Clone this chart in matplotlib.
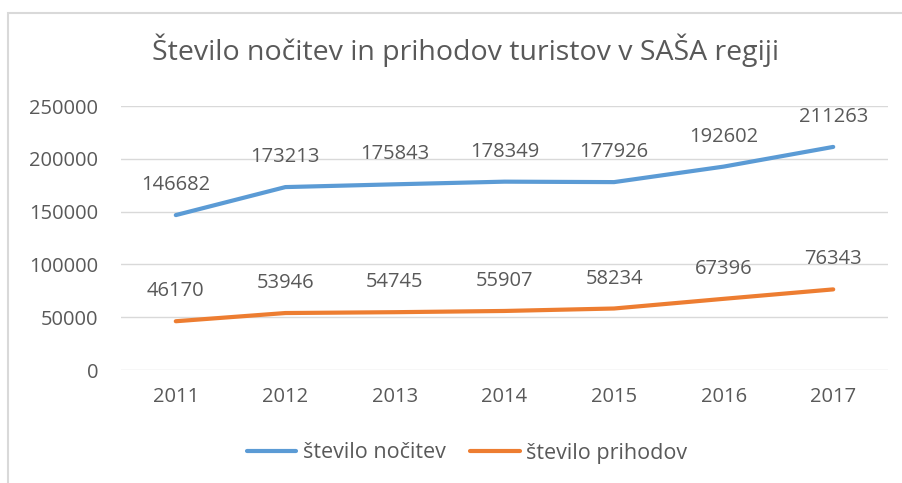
import matplotlib
matplotlib.use("Agg")
import matplotlib.pyplot as plt
from matplotlib.patches import Rectangle

years = ["2011", "2012", "2013", "2014", "2015", "2016", "2017"]
nocitve = [146682, 173213, 175843, 178349, 177926, 192602, 211263]
prihodi = [46170, 53946, 54745, 55907, 58234, 67396, 76343]
yticks = [0, 50000, 100000, 150000, 200000, 250000]

TEXT = "#595959"
GRID = "#D9D9D9"
BLUE = "#5B9BD5"
ORANGE = "#ED7D31"
FS = 14.5

plt.rcParams["font.family"] = ["Open Sans", "DejaVu Sans"]

fig = plt.figure(figsize=(9.02, 4.83), dpi=100)
ax = fig.add_axes([121 / 902, 1 - 370 / 483, (888 - 121) / 902, (370 - 106) / 483])

x = list(range(len(years)))
ax.plot(x, nocitve, color=BLUE, lw=3, solid_capstyle="round", label="število nočitev")
ax.plot(x, prihodi, color=ORANGE, lw=3, solid_capstyle="round", label="število prihodov")

for xi, v in zip(x, nocitve):
    ax.annotate(str(v), (xi, v), xytext=(0, 30), textcoords="offset pixels",
                ha="center", va="center", fontsize=FS, color=TEXT)
for xi, v in zip(x, prihodi):
    ax.annotate(str(v), (xi, v), xytext=(0, 30), textcoords="offset pixels",
                ha="center", va="center", fontsize=FS, color=TEXT)

ax.set_xlim(-0.5, len(years) - 0.5)
ax.set_ylim(0, 250000)
ax.set_yticks(yticks)
ax.set_yticklabels([str(t) for t in yticks])
ax.set_xticks(x)
ax.set_xticklabels(years)
ax.grid(axis="y", color=GRID, lw=1)
ax.set_axisbelow(True)
for s in ax.spines.values():
    s.set_visible(False)
ax.tick_params(length=0, labelsize=FS, colors=TEXT)
ax.tick_params(axis="y", pad=16.5)
ax.tick_params(axis="x", pad=12)

fig.text(465 / 902, 1 - 50 / 483, "Število nočitev in prihodov turistov v SAŠA regiji",
         ha="center", va="center", fontsize=20.5, color=TEXT)

fig.legend(loc="center", bbox_to_anchor=(467 / 902, 1 - 453 / 483), ncol=2,
           frameon=False, fontsize=15.5, labelcolor=TEXT, handlelength=2.3,
           columnspacing=1.15, handletextpad=0.3)

# outer chart frame
fig.patches.append(Rectangle((8 / 902, -0.1), 1.0, 1 - 13 / 483 + 0.1,
                             transform=fig.transFigure, fill=False,
                             edgecolor=GRID, lw=1.5))

fig.savefig("out.png", dpi=100)
